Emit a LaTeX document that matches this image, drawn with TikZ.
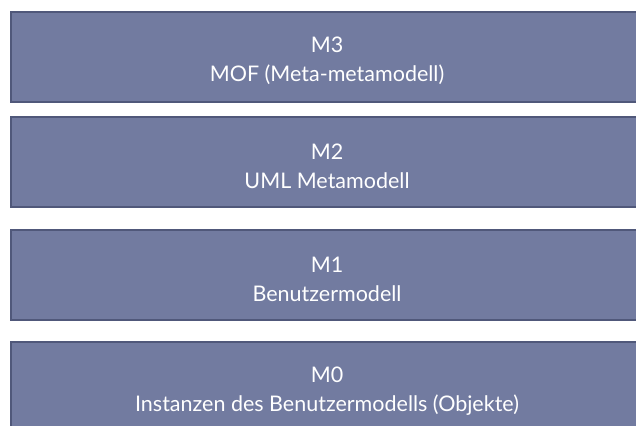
\documentclass[tikz,border=0pt]{standalone}
\usepackage{fontspec}
\setmainfont{Lato}
\definecolor{boxfill}{RGB}{114,123,160}
\definecolor{boxline}{RGB}{80,88,122}
\tikzset{
  layer/.style={draw=boxline, line width=2pt, fill=boxfill},
  layertext/.style={text=white, align=center, inner sep=0pt, font=\fontsize{21.5}{29}\selectfont}
}
\begin{document}
\begin{tikzpicture}[x=1pt,y=-1pt]
\useasboundingbox (0,0) rectangle (636,425);
\clip (0,0) rectangle (636,425);
\fill[white] (0,0) rectangle (636,425);
\draw[layer] (11,12) rectangle (650,102);
\draw[layer] (11,117) rectangle (650,207);
\draw[layer] (11,230) rectangle (650,320);
\draw[layer] (11,342) rectangle (650,432);
\node[layertext] (m3) at (327,61) {M3\\MOF (Meta-metamodell)};
\node[layertext] (m2) at (327,166) {M2\\UML Metamodell};
\node[layertext] (m1) at (327,279) {M1\\Benutzermodell};
\node[layertext] (m0) at (327,391) {M0\\Instanzen des Benutzermodells (Objekte)};
\end{tikzpicture}
\end{document}
